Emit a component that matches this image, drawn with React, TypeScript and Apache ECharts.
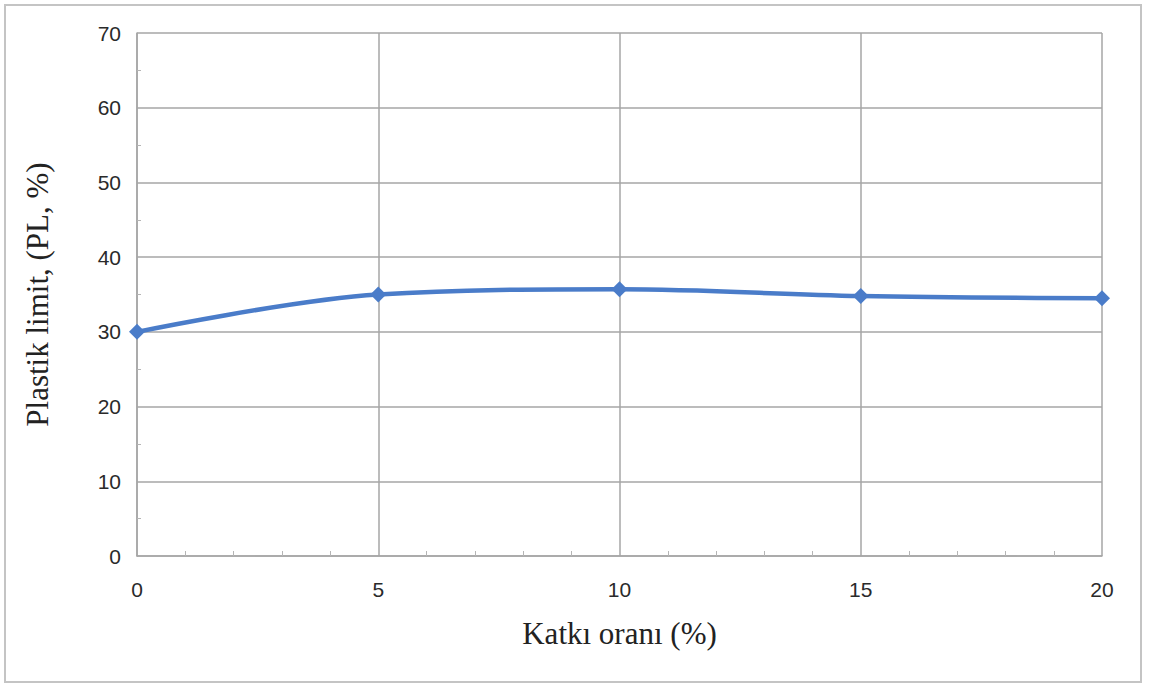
import React, { useEffect, useRef } from "react";
import * as echarts from "echarts";

// Additive ratio (%) and plastic limit (PL, %)
const katkiOrani = [0, 5, 10, 15, 20];
const plastikLimit = [30.0, 35.0, 35.7, 34.8, 34.5];
const xTicks = [0, 5, 10, 15, 20];
const yTicks = [0, 10, 20, 30, 40, 50, 60, 70];

const W = 1149;
const H = 687;

export default function App() {
  const ref = useRef<HTMLDivElement>(null);

  useEffect(() => {
    if (!ref.current) return;
    const chart = echarts.init(ref.current, undefined, { renderer: "svg" });
    const gridColor = "#a6a6a6";
    chart.setOption({
      animation: false,
      backgroundColor: "#ffffff",
      graphic: [
        {
          type: "rect",
          shape: { x: 5, y: 5, width: 1136, height: 677 },
          style: { fill: "none", stroke: "#c4c4c4", lineWidth: 2 },
          silent: true,
        },
      ],
      grid: { left: 137, right: 47, top: 33, bottom: 131, containLabel: false },
      xAxis: {
        type: "value",
        min: xTicks[0],
        max: xTicks[xTicks.length - 1],
        interval: 5,
        name: "Katkı oranı (%)",
        nameLocation: "middle",
        nameGap: 62,
        nameTextStyle: { fontFamily: "Liberation Serif", fontSize: 31, color: "#222" },
        axisLine: { show: true, lineStyle: { color: gridColor, width: 1.5 } },
        axisTick: { show: true, inside: true, length: 0, lineStyle: { color: gridColor } },
        minorTick: { show: true, splitNumber: 5, length: 5, lineStyle: { color: "#b5b5b5" } },
        axisLabel: { fontFamily: "Liberation Sans", fontSize: 21, color: "#2a2a2a", margin: 23 },
        splitLine: { show: true, lineStyle: { color: gridColor, width: 1.5 } },
      },
      yAxis: {
        type: "value",
        min: yTicks[0],
        max: yTicks[yTicks.length - 1],
        interval: 10,
        name: "Plastik limit, (PL, %)",
        nameLocation: "middle",
        nameGap: 84,
        nameTextStyle: { fontFamily: "Liberation Serif", fontSize: 31, color: "#222" },
        axisLine: { show: true, lineStyle: { color: gridColor, width: 1.5 } },
        axisTick: { show: true, inside: true, length: 0, lineStyle: { color: gridColor } },
        minorTick: { show: true, splitNumber: 2, length: 4, lineStyle: { color: "#b5b5b5" } },
        axisLabel: { fontFamily: "Liberation Sans", fontSize: 21, color: "#2a2a2a", margin: 16 },
        splitLine: { show: true, lineStyle: { color: gridColor, width: 1.5 } },
      },
      series: [
        {
          type: "line",
          data: katkiOrani.map((x, i) => [x, plastikLimit[i]]),
          smooth: 0.35,
          symbol: "diamond",
          symbolSize: 16,
          lineStyle: { color: "#4a7cc9", width: 4.5 },
          itemStyle: { color: "#4a7cc9" },
        },
      ],
    });
    return () => chart.dispose();
  }, []);

  return (
    <div
      ref={ref}
      style={{ position: "fixed", left: 0, top: 0, width: W, height: H }}
    />
  );
}
